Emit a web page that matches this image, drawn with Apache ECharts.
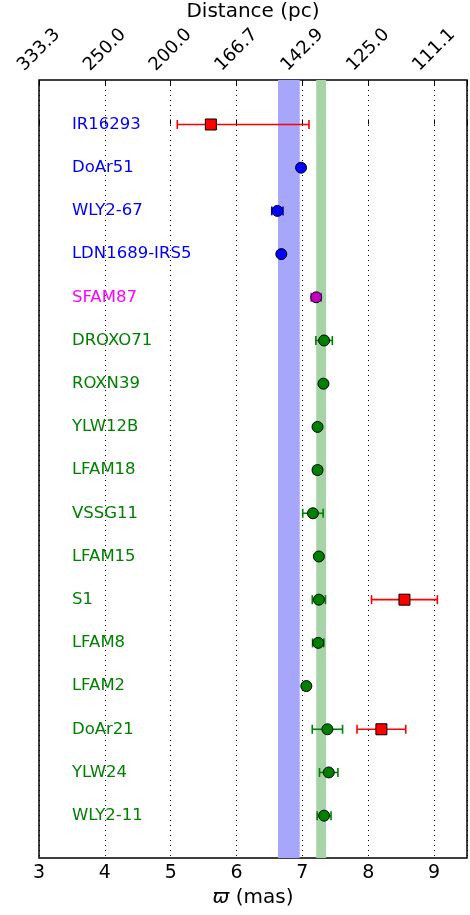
<!DOCTYPE html>
<html>
<head>
<meta charset="utf-8">
<script src="https://cdn.jsdelivr.net/npm/echarts@6/dist/echarts.min.js"></script>
<style>
html, body { margin: 0; padding: 0; background: #fff; }
#chart { width: 470px; height: 915px; }
</style>
</head>
<body>
<div id="chart"></div>
<script>
// sources, top to bottom
const sources = ['IR16293', 'DoAr51', 'WLY2-67', 'LDN1689-IRS5', 'SFAM87', 'DROXO71', 'ROXN39',
  'YLW12B', 'LFAM18', 'VSSG11', 'LFAM15', 'S1', 'LFAM8', 'LFAM2', 'DoAr21', 'YLW24', 'WLY2-11'];
// 0 = Lynds 1689, 1 = intermediate, 2 = Lynds 1688
const sourceGroup = [0, 0, 0, 0, 1, 2, 2, 2, 2, 2, 2, 2, 2, 2, 2, 2, 2];

// VLBA parallaxes (mas) and errors (circles)
const vlbaPlx = [null, 6.98, 6.62, 6.68, 7.21, 7.33, 7.32, 7.23, 7.23, 7.16, 7.25, 7.25, 7.24, 7.06, 7.38, 7.40, 7.33];
const vlbaErr = [null, 0.02, 0.085, 0.02, 0.075, 0.125, 0.02, 0.02, 0.06, 0.155, 0.02, 0.10, 0.085, 0.03, 0.23, 0.14, 0.105];

// previous measurements (red squares), lower / upper errors
const prevPlx = [5.61, null, null, null, null, null, null, null, null, null, null, 8.55, null, null, 8.20, null, null];
const prevErrLo = [0.51, null, null, null, null, null, null, null, null, null, null, 0.50, null, null, 0.37, null, null];
const prevErrHi = [1.49, null, null, null, null, null, null, null, null, null, null, 0.50, null, null, 0.37, null, null];

// mean parallax bands
const bandL1689 = [6.63, 6.96];
const bandL1688 = [7.21, 7.36];

const groupColor = ['#0000ff', '#bf00bf', '#008000'];
const labelColor = ['#0000ff', '#ff00ff', '#008000'];
const FONT = 'DejaVu Sans';

function pointsFor(g) {
  const pts = [], errs = [];
  sources.forEach(function (s, i) {
    if (sourceGroup[i] !== g || vlbaPlx[i] == null) return;
    pts.push([vlbaPlx[i], i]);
    errs.push([i, vlbaPlx[i] - vlbaErr[i], vlbaPlx[i] + vlbaErr[i]]);
  });
  return { pts: pts, errs: errs };
}

function errSeries(color, data, extra) {
  return Object.assign({
    type: 'custom',
    data: data,
    encode: { x: [1, 2], y: 0 },
    z: 3,
    renderItem: function (params, api) {
      const y = api.value(0);
      const a = api.coord([api.value(1), y]);
      const b = api.coord([api.value(2), y]);
      const c = 4.5;
      const st = { stroke: color, lineWidth: 1.6 };
      return {
        type: 'group',
        children: [
          { type: 'line', shape: { x1: a[0], y1: a[1], x2: b[0], y2: b[1] }, style: st },
          { type: 'line', shape: { x1: a[0], y1: a[1] - c, x2: a[0], y2: a[1] + c }, style: st },
          { type: 'line', shape: { x1: b[0], y1: b[1] - c, x2: b[0], y2: b[1] + c }, style: st }
        ]
      };
    }
  }, extra || {});
}

function dotSeries(color, data, symbol) {
  return {
    type: 'scatter',
    data: data,
    symbol: symbol,
    symbolSize: 11,
    z: 4,
    itemStyle: { color: color, borderColor: '#000', borderWidth: 1, opacity: 1 }
  };
}

const series = [];
[0, 1, 2].forEach(function (g) {
  const d = pointsFor(g);
  series.push(errSeries(groupColor[g], d.errs, g === 0 ? {
    markArea: {
      silent: true,
      data: [
        [{ xAxis: bandL1689[0], itemStyle: { color: '#a6a6fa' } }, { xAxis: bandL1689[1] }],
        [{ xAxis: bandL1688[0], itemStyle: { color: '#a8d3a8' } }, { xAxis: bandL1688[1] }]
      ]
    }
  } : {}));
  series.push(dotSeries(groupColor[g], d.pts, 'circle'));
});

const prevPts = [], prevErrs = [];
sources.forEach(function (s, i) {
  if (prevPlx[i] == null) return;
  prevPts.push([prevPlx[i], i]);
  prevErrs.push([i, prevPlx[i] - prevErrLo[i], prevPlx[i] + prevErrHi[i]]);
});
series.push(errSeries('#ff0000', prevErrs));
series.push(dotSeries('#ff0000', prevPts, 'rect'));

// source names
series.push({
  type: 'custom',
  data: sources.map(function (s, i) { return [i]; }),
  encode: { y: 0 },
  z: 5,
  renderItem: function (params, api) {
    const i = params.dataIndex;
    const p = api.coord([3.5, api.value(0)]);
    return {
      type: 'text',
      x: p[0], y: p[1],
      style: {
        text: sources[i], fill: labelColor[sourceGroup[i]],
        font: '16.5px "' + FONT + '"', verticalAlign: 'middle', align: 'left'
      }
    };
  }
});

const chart = echarts.init(document.getElementById('chart'));
chart.setOption({
  animation: false,
  textStyle: { fontFamily: FONT },
  grid: {
    left: 39, right: 3, top: 80, bottom: 57,
    outerBoundsMode: 'none', containLabel: false,
    show: true, borderColor: '#000', borderWidth: 1.5, backgroundColor: 'transparent'
  },
  xAxis: [
    {
      type: 'value', position: 'bottom', min: 3, max: 9.5, interval: 1,
      name: '{i|ϖ} (mas)', nameLocation: 'middle', nameGap: 30, nameMoveOverlap: false,
      nameTextStyle: { color: '#000', fontSize: 20, fontFamily: FONT, rich: { i: { fontStyle: 'italic', fontSize: 20, fontFamily: FONT } } },
      axisLine: { show: false },
      axisTick: { show: true, inside: true, length: 5, lineStyle: { color: '#000' } },
      axisLabel: {
        color: '#000', fontSize: 19, margin: 6, fontFamily: FONT,
        formatter: function (v) { return Number.isInteger(v) ? String(v) : ''; }
      },
      splitLine: { show: true, lineStyle: { color: '#000', type: [1, 4], width: 1 } }
    },
    {
      type: 'value', position: 'top', min: 3, max: 9.5, interval: 1,
      name: 'Distance (pc)', nameLocation: 'middle', nameGap: 58, nameMoveOverlap: false,
      nameTextStyle: { color: '#000', fontSize: 20, fontFamily: FONT },
      axisLine: { show: false },
      axisTick: { show: true, inside: true, length: 5, lineStyle: { color: '#000' } },
      axisLabel: {
        color: '#000', fontSize: 18, rotate: -45, margin: 30, fontFamily: FONT,
        align: 'center', verticalAlign: 'middle',
        formatter: function (v) { return Number.isInteger(v) ? (1000 / v).toFixed(1) : ''; }
      },
      splitLine: { show: false }
    }
  ],
  yAxis: {
    type: 'value', inverse: true, min: -1.03, max: 16.98,
    axisLine: { show: false }, axisTick: { show: false },
    axisLabel: { show: false }, splitLine: { show: false }
  },
  series: series
});
</script>
</body>
</html>
